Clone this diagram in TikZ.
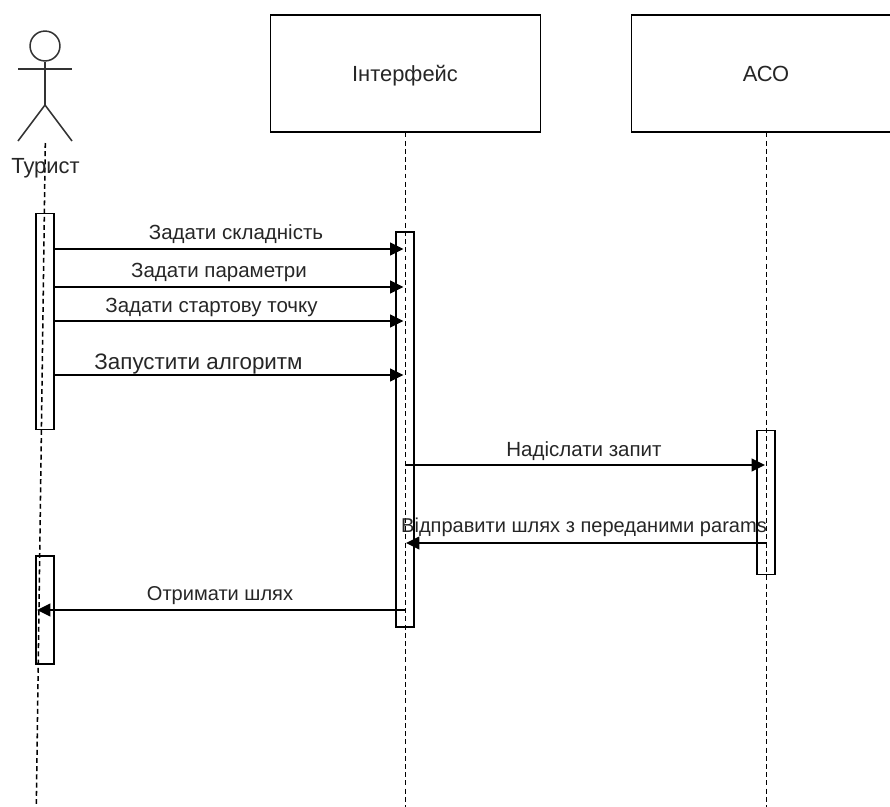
\documentclass[tikz,border=0pt]{standalone}
\usepackage{fontspec}
\setmainfont{Liberation Sans}
\usetikzlibrary{arrows.meta}
\tikzset{
	>={Triangle[length=11.5pt,width=11pt]},
	lifebox/.style={draw=black, fill=white, line width=1.3pt, minimum width=230.5pt, minimum height=99.5pt, inner sep=0pt},
	boxlabel/.style={anchor=base, inner sep=0pt, text=black!85, font=\fontsize{18.7}{22}\selectfont},
	activation/.style={draw=black, line width=1.3pt, minimum width=15.3pt, inner sep=0pt},
	lifeline/.style={black, line width=1.3pt, dash pattern=on 4.2pt off 2.8pt},
	actorline/.style={black!80, line width=1.3pt},
	msg/.style={black, line width=1.3pt, ->},
	msglabel/.style={anchor=base, inner sep=0pt, text=black!85, font=\fontsize{17.5}{20}\selectfont},
	msgsmall/.style={msglabel, font=\fontsize{17.1}{20}\selectfont},
}
\begin{document}
\begin{tikzpicture}[x=0.03cm,y=-0.03cm]
	\path[use as bounding box, clip] (0,0) rectangle (890,807);
	
	% actor
	\coordinate (lifeA) at (45.3,143);
	\coordinate (lifeAend) at (36.3,807);
	\node[circle, draw=black!80, line width=1.3pt, minimum size=25.5pt, inner sep=0pt] (head) at (45,46) {};
	\coordinate (hip) at (45,105);
	\coordinate (armL) at (18,69);
	\coordinate (armR) at (72,69);
	\coordinate (footL) at (18,141);
	\coordinate (footR) at (72,141);
	\draw[actorline] (head.south) -- (hip);
	\draw[actorline] (armL) -- (armR);
	\draw[actorline] (footL) -- (hip) -- (footR);
	
	% boxes on top
	\node[lifebox] (iface) at (405.5,73.5) {};
	\node[lifebox] (aco) at (766.5,73.5) {};
	\node[boxlabel] (ifaceText) at (405,81) {Інтерфейс};
	\node[boxlabel] (acoText) at (766,81) {АСО};
	\coordinate (ifaceEnd) at (405.5,807);
	\coordinate (acoEnd) at (766.5,807);
	
	% lifelines
	\draw[lifeline] (lifeA) -- (lifeAend);
	\draw[lifeline] (iface.south) -- (ifaceEnd);
	\draw[lifeline] (aco.south) -- (acoEnd);
	
	\node[boxlabel] (tourist) at (45.5,173) {Турист};
	
	% activation bars
	\node[activation, minimum height=184.5pt] (barA) at (45,321.5) {};
	\node[activation, minimum height=337.5pt] (barI) at (405,429.5) {};
	\node[activation, minimum height=123.3pt] (barC) at (766,502.5) {};
	\node[activation, minimum height=91.8pt] (barB) at (45,610) {};
	
	% requests from the tourist
	\foreach \y/\nm in {249/a,287/b,321/c,375/d}{
		\coordinate (from\nm) at (54,\y);
		\coordinate (to\nm) at (403.5,\y);
		\draw[msg] (from\nm) -- (to\nm);
	}
	\node[msglabel] (lblA) at (236,239.5) {Задати складність};
	\node[msglabel] (lblB) at (219,277.5) {Задати параметри};
	\node[msglabel] (lblC) at (211.5,312.5) {Задати стартову точку};
	\node[msglabel, font=\fontsize{19.1}{23}\selectfont] (lblD) at (198.5,369.5) {Запустити алгоритм};
	
	% answers
	\coordinate (sendI) at (405.5,465);
	\coordinate (sendC) at (765,465);
	\coordinate (backC) at (766.5,543);
	\coordinate (backI) at (406,543);
	\coordinate (pathI) at (405.5,610);
	\coordinate (pathA) at (37,610);
	\draw[msg] (sendI) -- (sendC);
	\draw[msg] (backC) -- (backI);
	\draw[msg] (pathI) -- (pathA);
	\node[msglabel] (lblE) at (584,456) {Надіслати запит};
	\node[msgsmall] (lblF) at (584,532) {Відправити шлях з переданими params};
	\node[msgsmall] (lblG) at (220,600) {Отримати шлях};
\end{tikzpicture}
\end{document}
